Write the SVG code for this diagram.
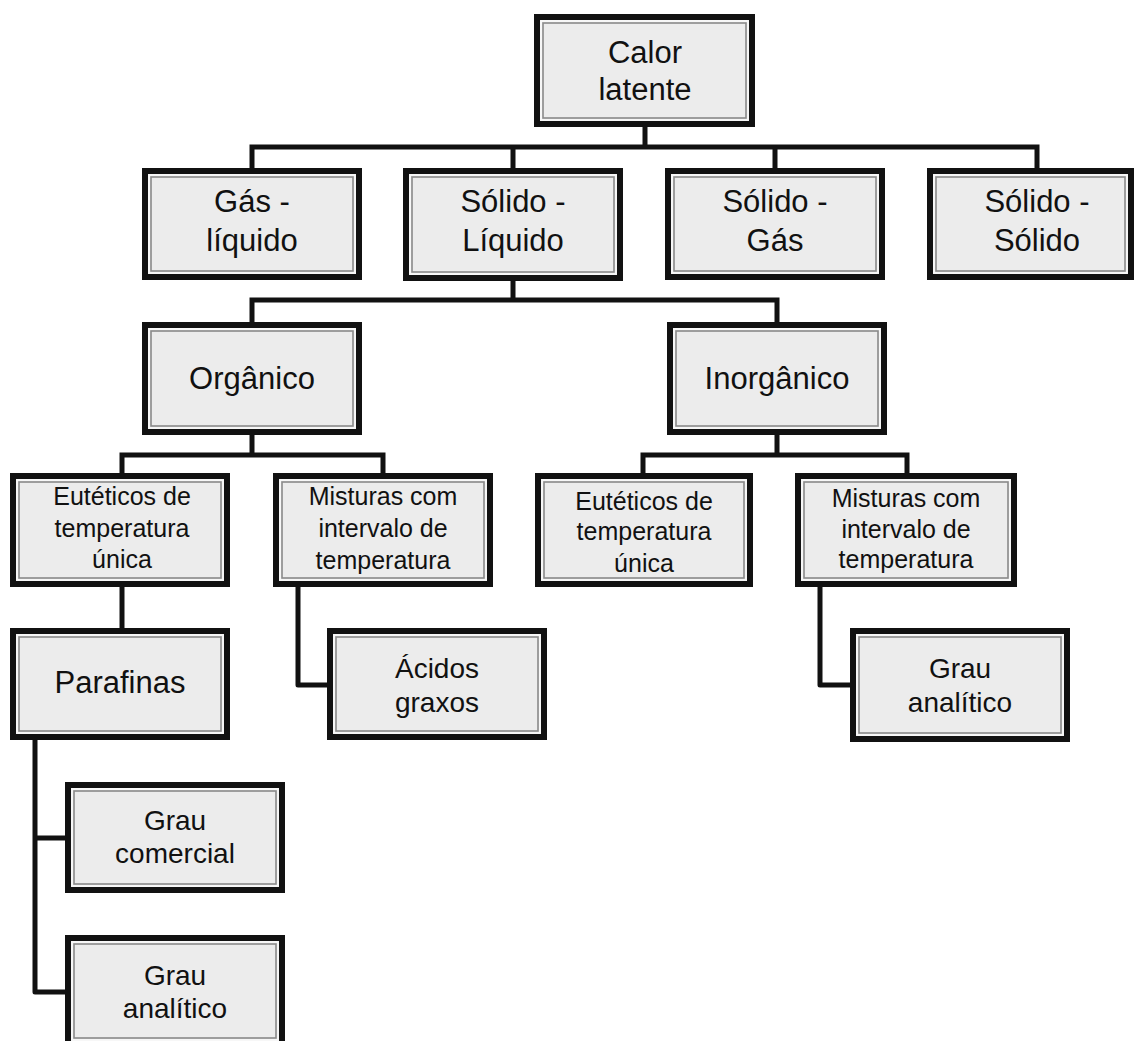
<svg xmlns="http://www.w3.org/2000/svg" width="1136" height="1041" viewBox="0 0 1136 1041">
  <style>
    .frame { fill: #ececec; stroke: #111; stroke-width: 6; }
    .gap { fill: none; stroke: #fafafa; stroke-width: 1.5; }
    .rule { fill: none; stroke: #8a8a8a; stroke-width: 1.6; }
    .link { fill: none; stroke: #111; stroke-width: 5; stroke-linejoin: round; stroke-linecap: square; }
    text { font-family: "Liberation Sans", Arial, sans-serif; fill: #111; text-anchor: middle; }
    .big { font-size: 31px; }
    .mid { font-size: 28px; }
    .small { font-size: 25px; }
  </style>

  <!-- connectors -->
  <g id="connectors" class="link">
    <path d="M645,127 V147 M252,147 H1037 M252,147 V168 M513,147 V168 M775,147 V168 M1037,147 V168"/>
    <path d="M513,281 V300 M252,300 H777 M252,300 V322 M777,300 V322"/>
    <path d="M252,435 V455 M122,455 H383 M122,455 V473 M383,455 V473"/>
    <path d="M777,435 V455 M643,455 H907 M643,455 V473 M907,455 V473"/>
    <path d="M122,587 V628"/>
    <path d="M298,587 V685 H327"/>
    <path d="M820,587 V685 H850"/>
    <path d="M35,740 V992 H65 M35,838 H65"/>
  </g>

  <!-- root -->
  <g id="calor-latente">
    <rect class="frame" x="537" y="17" width="215" height="107"/>
    <rect class="gap" x="541" y="21" width="207" height="99"/>
    <rect class="rule" x="543" y="23" width="203" height="95"/>
    <text class="big" x="645" y="63">Calor</text>
    <text class="big" x="645" y="100">latente</text>
  </g>

  <!-- phase change types -->
  <g id="gas-liquido">
    <rect class="frame" x="145" y="171" width="214" height="106"/>
    <rect class="gap" x="149" y="175" width="206" height="98"/>
    <rect class="rule" x="151" y="177" width="202" height="94"/>
    <text class="big" x="252" y="212">Gás -</text>
    <text class="big" x="252" y="251">líquido</text>
  </g>

  <g id="solido-liquido">
    <rect class="frame" x="406" y="171" width="214" height="107"/>
    <rect class="gap" x="410" y="175" width="206" height="99"/>
    <rect class="rule" x="412" y="177" width="202" height="95"/>
    <text class="big" x="513" y="212">Sólido -</text>
    <text class="big" x="513" y="251">Líquido</text>
  </g>

  <g id="solido-gas">
    <rect class="frame" x="668" y="171" width="214" height="106"/>
    <rect class="gap" x="672" y="175" width="206" height="98"/>
    <rect class="rule" x="674" y="177" width="202" height="94"/>
    <text class="big" x="775" y="212">Sólido -</text>
    <text class="big" x="775" y="251">Gás</text>
  </g>

  <g id="solido-solido">
    <rect class="frame" x="930" y="171" width="201" height="106"/>
    <rect class="gap" x="934" y="175" width="193" height="98"/>
    <rect class="rule" x="936" y="177" width="189" height="94"/>
    <text class="big" x="1037" y="212">Sólido -</text>
    <text class="big" x="1037" y="251">Sólido</text>
  </g>

  <!-- material classes -->
  <g id="organico">
    <rect class="frame" x="145" y="325" width="214" height="107"/>
    <rect class="gap" x="149" y="329" width="206" height="99"/>
    <rect class="rule" x="151" y="331" width="202" height="95"/>
    <text class="big" x="252" y="389">Orgânico</text>
  </g>

  <g id="inorganico">
    <rect class="frame" x="670" y="325" width="214" height="107"/>
    <rect class="gap" x="674" y="329" width="206" height="99"/>
    <rect class="rule" x="676" y="331" width="202" height="95"/>
    <text class="big" x="777" y="389">Inorgânico</text>
  </g>

  <!-- organic subclasses -->
  <g id="org-euteticos">
    <rect class="frame" x="13" y="476" width="214" height="108"/>
    <rect class="gap" x="17" y="480" width="206" height="100"/>
    <rect class="rule" x="19" y="482" width="202" height="96"/>
    <text class="small" x="122" y="505">Eutéticos de</text>
    <text class="small" x="122" y="537">temperatura</text>
    <text class="small" x="122" y="568">única</text>
  </g>

  <g id="org-misturas">
    <rect class="frame" x="276" y="476" width="214" height="108"/>
    <rect class="gap" x="280" y="480" width="206" height="100"/>
    <rect class="rule" x="282" y="482" width="202" height="96"/>
    <text class="small" x="383" y="505">Misturas com</text>
    <text class="small" x="383" y="537">intervalo de</text>
    <text class="small" x="383" y="569">temperatura</text>
  </g>

  <!-- inorganic subclasses -->
  <g id="inorg-euteticos">
    <rect class="frame" x="538" y="476" width="212" height="108"/>
    <rect class="gap" x="542" y="480" width="204" height="100"/>
    <rect class="rule" x="544" y="482" width="200" height="96"/>
    <text class="small" x="644" y="510">Eutéticos de</text>
    <text class="small" x="644" y="540">temperatura</text>
    <text class="small" x="644" y="572">única</text>
  </g>

  <g id="inorg-misturas">
    <rect class="frame" x="798" y="476" width="216" height="108"/>
    <rect class="gap" x="802" y="480" width="208" height="100"/>
    <rect class="rule" x="804" y="482" width="204" height="96"/>
    <text class="small" x="906" y="507">Misturas com</text>
    <text class="small" x="906" y="538">intervalo de</text>
    <text class="small" x="906" y="568">temperatura</text>
  </g>

  <!-- leaves -->
  <g id="parafinas">
    <rect class="frame" x="13" y="631" width="214" height="106"/>
    <rect class="gap" x="17" y="635" width="206" height="98"/>
    <rect class="rule" x="19" y="637" width="202" height="94"/>
    <text class="big" x="120" y="693">Parafinas</text>
  </g>

  <g id="acidos-graxos">
    <rect class="frame" x="330" y="631" width="214" height="106"/>
    <rect class="gap" x="334" y="635" width="206" height="98"/>
    <rect class="rule" x="336" y="637" width="202" height="94"/>
    <text class="mid" x="437" y="678">Ácidos</text>
    <text class="mid" x="437" y="712">graxos</text>
  </g>

  <g id="inorg-grau-analitico">
    <rect class="frame" x="853" y="631" width="214" height="108"/>
    <rect class="gap" x="857" y="635" width="206" height="100"/>
    <rect class="rule" x="859" y="637" width="202" height="96"/>
    <text class="mid" x="960" y="678">Grau</text>
    <text class="mid" x="960" y="712">analítico</text>
  </g>

  <g id="grau-comercial">
    <rect class="frame" x="68" y="785" width="214" height="105"/>
    <rect class="gap" x="72" y="789" width="206" height="97"/>
    <rect class="rule" x="74" y="791" width="202" height="93"/>
    <text class="mid" x="175" y="830">Grau</text>
    <text class="mid" x="175" y="863">comercial</text>
  </g>

  <g id="org-grau-analitico">
    <rect class="frame" x="68" y="938" width="214" height="106"/>
    <rect class="gap" x="72" y="942" width="206" height="98"/>
    <rect class="rule" x="74" y="944" width="202" height="94"/>
    <text class="mid" x="175" y="985">Grau</text>
    <text class="mid" x="175" y="1018">analítico</text>
  </g>
</svg>
